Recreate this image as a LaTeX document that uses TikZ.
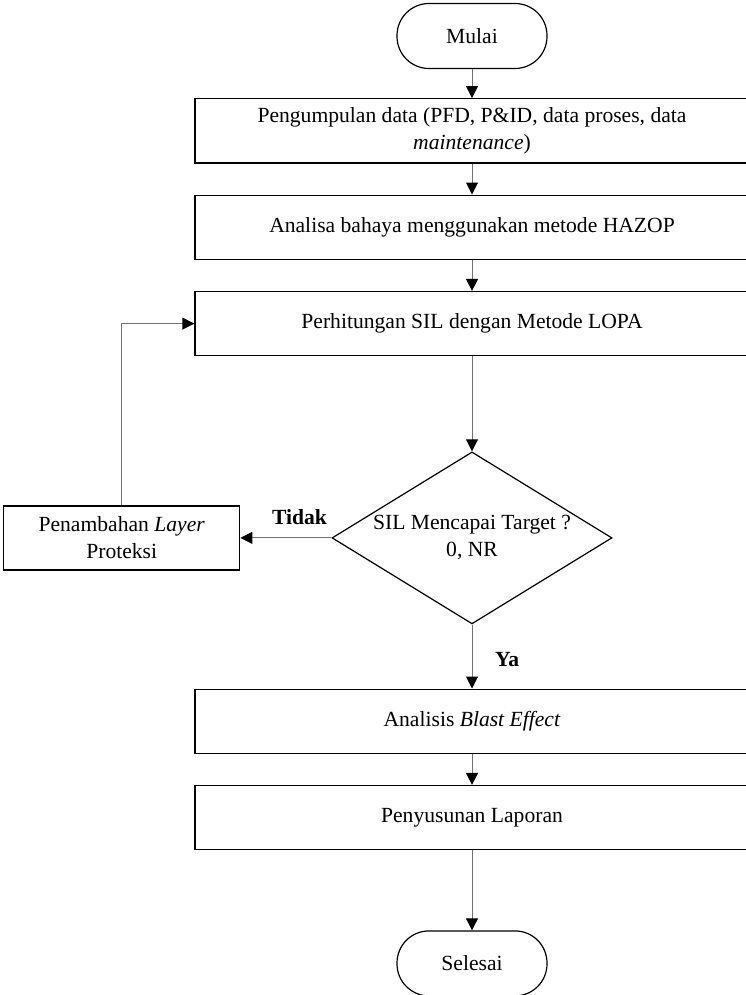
\documentclass[tikz,border=0pt]{standalone}
\usepackage{fontspec}
\setmainfont{Liberation Serif}
\usepackage{tikz}
\usetikzlibrary{arrows.meta,positioning,shapes.geometric}
\tikzset {
	terminal/.style={rectangle, draw, rounded corners=16pt, minimum width=75pt, minimum height=32.5pt, line width=.6pt},
	process/.style={rectangle, draw, minimum width=277pt, minimum height=32pt, align=center, line width=.7pt},
	decision/.style={diamond, draw, minimum width=140pt, minimum height=86pt, inner sep=0pt, line width=.6pt},
	sideBox/.style={rectangle, draw, minimum width=118pt, minimum height=32pt, align=center, line width=.7pt},
	flowLine/.style={draw=black!55, line width=.5pt, -{Triangle[color=black, length=6pt, width=6pt]}},
	answer/.style={font=\fontsize{10.8}{13.5}\selectfont\bfseries}
}
\begin{document}
\begin{tikzpicture}[font=\fontsize{10.8}{13.5}\selectfont]
	\useasboundingbox (0,0) rectangle (372.5pt,-497.5pt);
	\node [terminal] (mulai) at (236pt,-18pt) {Mulai};
	\node [process, below=14.5pt of mulai] (pengumpulan) {Pengumpulan data (PFD, P\&ID, data proses, data\\\textit{maintenance})};
	\node [process, below=15.5pt of pengumpulan] (hazop) {Analisa bahaya menggunakan metode HAZOP};
	\node [process, below=15.5pt of hazop] (lopa) {Perhitungan SIL dengan Metode LOPA};
	\node [decision, below=47.5pt of lopa, label={[align=center]center:{SIL Mencapai Target ?\\0, NR}}] (cek) {};
	\node [sideBox, left=45.5pt of cek] (lapisan) {Penambahan \textit{Layer}\\Proteksi};
	\node [process, below=32pt of cek] (blast) {Analisis \textit{Blast Effect}};
	\node [process, below=15.5pt of blast] (laporan) {Penyusunan Laporan};
	\node [terminal, below=40pt of laporan] (selesai) {Selesai};

	\draw [flowLine] (mulai) -- (pengumpulan);
	\draw [flowLine] (pengumpulan) -- (hazop);
	\draw [flowLine] (hazop) -- (lopa);
	\draw [flowLine] (lopa) -- (cek);
	\draw [flowLine] (cek) -- node [answer, above=3pt, pos=.35] {Tidak} (lapisan);
	\draw [flowLine] (lapisan.north) |- (lopa.west);
	\draw [flowLine] (cek) -- node [answer, right=8pt, pos=.55] {Ya} (blast);
	\draw [flowLine] (blast) -- (laporan);
	\draw [flowLine] (laporan) -- (selesai);
\end{tikzpicture}
\end{document}
